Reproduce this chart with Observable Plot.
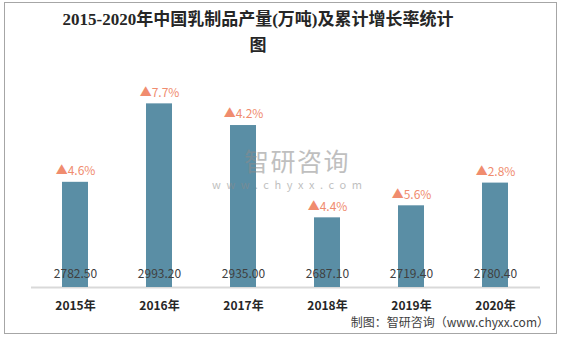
<!DOCTYPE html>
<html>
<head>
<meta charset="utf-8">
<script src="https://cdn.jsdelivr.net/npm/d3@7"></script>
<script src="https://cdn.jsdelivr.net/npm/@observablehq/plot@0.6"></script>
<style>
  html, body { margin: 0; padding: 0; background: #fff; }
  body { width: 562px; height: 337px; position: relative; overflow: hidden; font-family: "Noto Sans CJK SC", "Noto Sans", sans-serif; }
  #frame { position: absolute; left: 4px; top: 2px; width: 553px; height: 332px; box-sizing: border-box; border: 1px solid #a6a6a6; }
  #title { position: absolute; left: 0; top: 7px; width: 516px; text-align: center; font-family: "Liberation Serif", "Noto Sans CJK SC", serif; font-size: 17px; line-height: 26px; font-weight: 600; color: #262626; }
  #chart { position: absolute; left: 0; top: 57px; }
  #caption { position: absolute; right: 13px; top: 313px; font-size: 12px; color: #404040; white-space: nowrap; }
  #wm1 { position: absolute; left: 244px; top: 148px; font-size: 25px; line-height: 25px; color: #8c8c8c; opacity: 0.55; letter-spacing: 1.5px; }
  #wm2 { position: absolute; left: 212px; top: 179px; font-size: 11px; line-height: 11px; color: #8c8c8c; opacity: 0.55; letter-spacing: 5.6px; }
</style>
</head>
<body>
<div id="frame"></div>
<div id="title">2015-2020年中国乳制品产量(万吨)及累计增长率统计<br>图</div>
<div id="chart"></div>
<div id="wm1">智研咨询</div>
<div id="wm2">www.chyxx.com</div>
<div id="caption">制图：智研咨询（www.chyxx.com）</div>
<script>
const years = ["2015年", "2016年", "2017年", "2018年", "2019年", "2020年"];
const production = [2782.50, 2993.20, 2935.00, 2687.10, 2719.40, 2780.40];
const growth = ["4.6%", "7.7%", "4.2%", "4.4%", "5.6%", "2.8%"];

const yMin = 2500;
const data = years.map((y, i) => ({year: y, value: production[i], growth: growth[i]}));

const chart = Plot.plot({
  width: 562,
  height: 260,
  marginLeft: 31,
  marginRight: 22,
  marginTop: 20,
  marginBottom: 30,
  style: {fontFamily: "'Noto Sans CJK SC', 'Noto Sans', sans-serif", fontSize: "12px", color: "#404040", background: "transparent"},
  x: {domain: years, paddingInner: 0.69, paddingOuter: 0.345, label: null, tickSize: 0, tickPadding: 14},
  y: {domain: [yMin, 3064], axis: null},
  marks: [
    Plot.ruleY([yMin], {stroke: "#d9d9d9", strokeWidth: 2}),
    Plot.barY(data, {x: "year", y1: yMin, y2: "value", fill: "#5a8ea5"}),
    Plot.text(data, {x: "year", y: yMin, dy: -13, text: d => d.value.toFixed(2), fill: "#404040", fontSize: 12}),
    Plot.text(data, {x: "year", y: "value", dy: -11, text: d => "▲" + d.growth, fill: "#f08c6e", fontSize: 12}),
    Plot.axisX({tickSize: 0, tickPadding: 14, fontWeight: "bold", fontSize: 12, fill: "#262626", label: null})
  ]
});
document.getElementById("chart").appendChild(chart);
</script>
</body>
</html>
